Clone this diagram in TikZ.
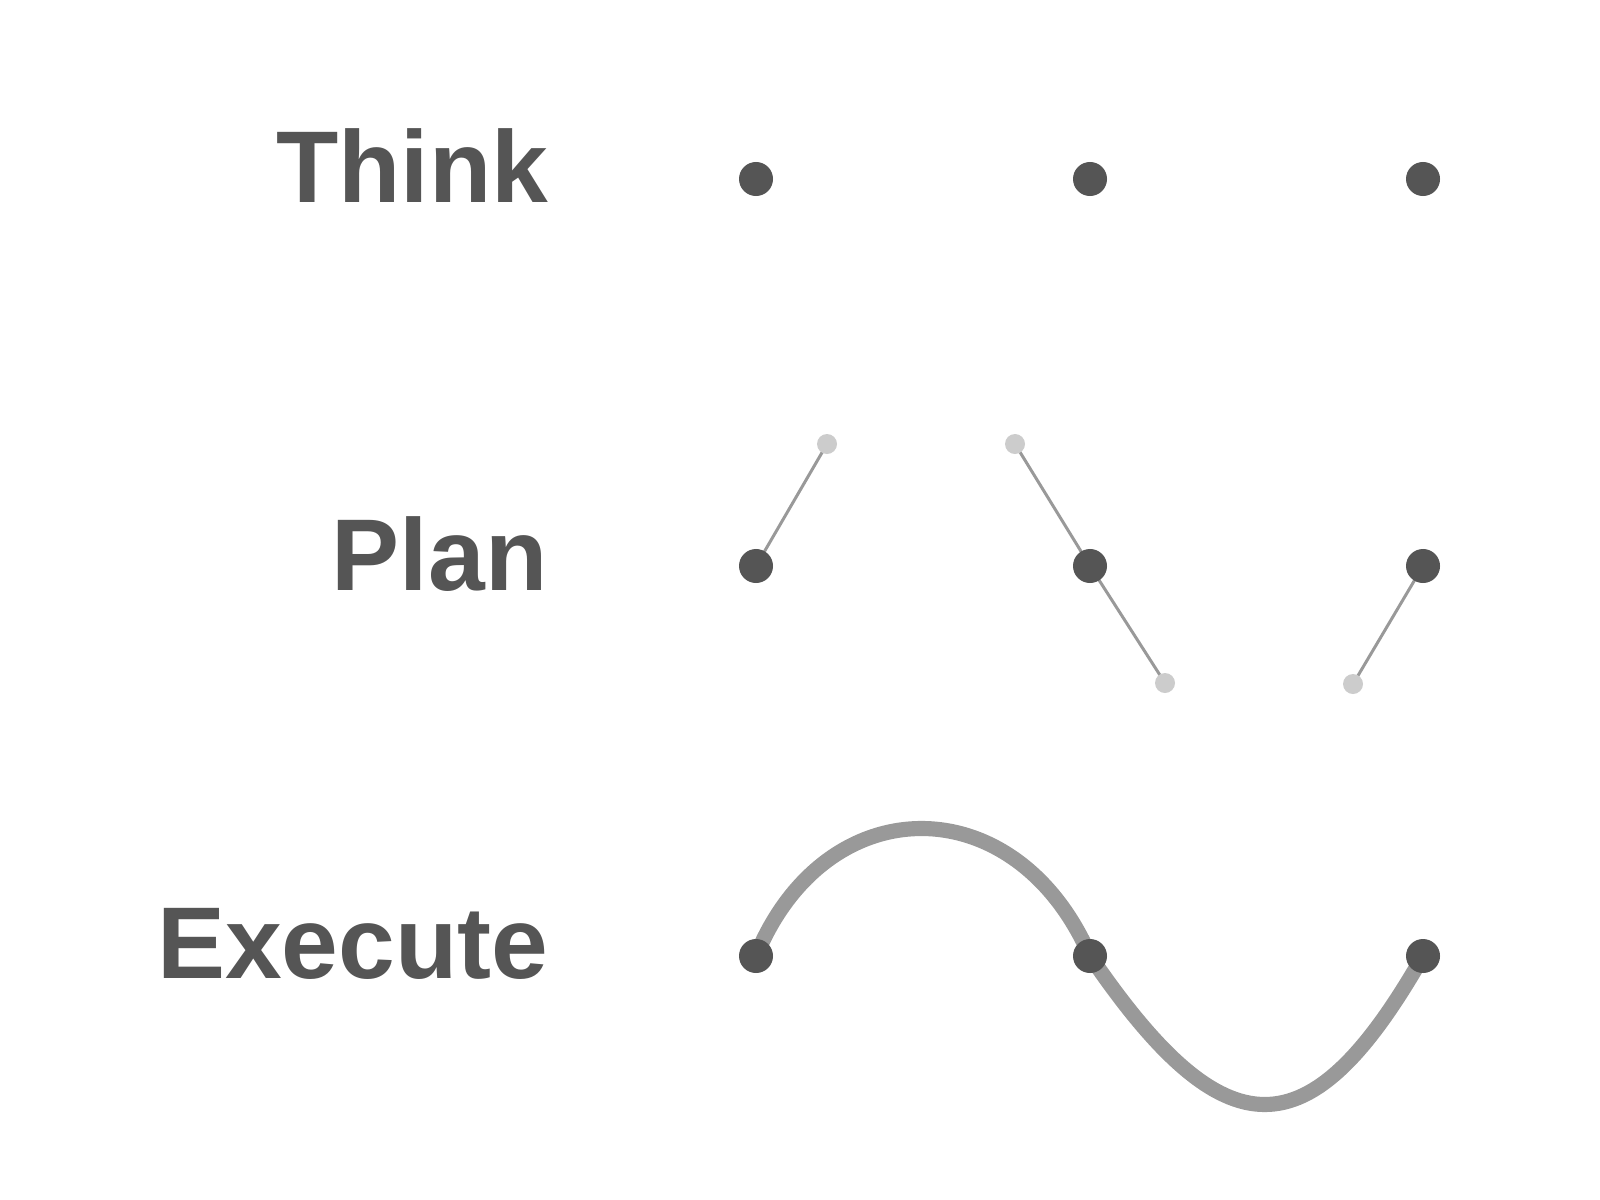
\documentclass[tikz,border=0pt]{standalone}
\usepackage{fontspec}
\setmainfont{Liberation Sans}
\usetikzlibrary{backgrounds}
\definecolor{ink}{HTML}{555555}
\definecolor{wire}{HTML}{999999}
\definecolor{handle}{HTML}{CCCCCC}
\begin{document}
\begin{tikzpicture}[x=0.01cm,y=-0.01cm,
    label/.style={anchor=base east,text=ink,inner sep=0pt,font=\fontsize{29}{30}\selectfont\bfseries},
    knot/.style={circle,fill=ink,minimum size=0.34cm,inner sep=0pt},
    grip/.style={circle,fill=handle,minimum size=0.2cm,inner sep=0pt},
    arm/.style={wire,line width=0.85pt},
    path/.style={wire,line width=4.3pt}]
  \useasboundingbox (0,0) rectangle (1600,1200);
  % row labels
  \node[label] (think) at (549,202) {Think};
  \node[label] (plan) at (548,590) {Plan};
  \node[label] (execute) at (549,978) {Execute};
  % think: bare points
  \foreach \i/\x in {1/756,2/1090,3/1423}
    \node[knot] (t\i) at (\x,179) {};
  % plan: points with handles
  \node[knot] (p1) at (756,566) {};
  \node[knot] (p2) at (1090,566) {};
  \node[knot] (p3) at (1423,566) {};
  \node[grip] (h1) at (827,444) {};
  \node[grip] (h2) at (1015,444) {};
  \node[grip] (h3) at (1165,683) {};
  \node[grip] (h4) at (1353,684) {};
  % execute: the resulting curve
  \node[knot] (e1) at (756,956) {};
  \node[knot] (e2) at (1090,956) {};
  \node[knot] (e3) at (1423,956) {};
  \begin{scope}[on background layer]
    \draw[arm] (p1.center) -- (h1.center);
    \draw[arm] (h2.center) -- (p2.center) -- (h3.center);
    \draw[arm] (p3.center) -- (h4.center);
    \draw[path] (e1.center) .. controls (826,786) and (1016,786) .. (e2.center)
                            .. controls (1225,1154) and (1310,1154) .. (e3.center);
  \end{scope}
\end{tikzpicture}
\end{document}
